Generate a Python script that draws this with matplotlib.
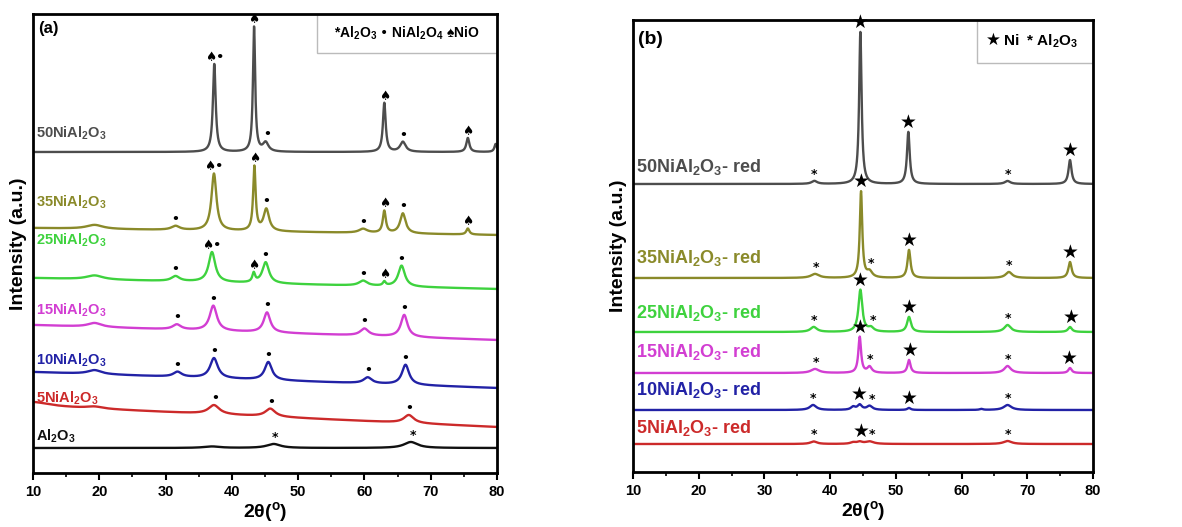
import matplotlib.pyplot as plt
import numpy as np
from matplotlib.patches import Rectangle

plt.rcParams['font.family'] = ['Liberation Sans', 'DejaVu Sans']
plt.rcParams['font.weight'] = 'bold'
plt.rcParams['mathtext.default'] = 'regular'

# Panel (a): calcined samples. Peaks = (2theta, height, fwhm), background = (start, end).
labels_a = ['50NiAl$_2$O$_3$', '35NiAl$_2$O$_3$', '25NiAl$_2$O$_3$', '15NiAl$_2$O$_3$',
            '10NiAl$_2$O$_3$', '5NiAl$_2$O$_3$', 'Al$_2$O$_3$']
colors_a = ['#4d4d4d', '#8a8a2a', '#3ed23e', '#d23ed2', '#2222a6', '#cc2a2a', '#111111']
bg_a = [(321, 321), (245, 238), (195, 184), (148, 133), (101, 85), (67, 46), (25, 25)]
label_y_a = [340, 271, 233, 163, 113, 75, 37]

peaks_50 = [(37.35, 88, 0.5), (43.35, 125, 0.4), (45.1, 9, 1.0), (63.0, 49, 0.5),
            (65.8, 10, 1.0), (75.6, 14, 0.55), (79.8, 8, 0.45)]
peaks_35 = [(19.3, 4, 3.0), (31.5, 4, 1.5), (37.3, 57, 0.9), (43.4, 64, 0.45), (45.2, 22, 1.0),
            (59.8, 4, 1.5), (63.0, 22, 0.55), (65.8, 20, 1.0), (75.6, 6, 0.55)]
peaks_25 = [(19.3, 4, 3.0), (31.5, 5, 1.5), (37.0, 30, 1.2), (43.3, 9, 0.5), (45.1, 21, 1.2),
            (59.8, 5, 1.5), (63.0, 4, 0.5), (65.6, 21, 1.2)]
peaks_15 = [(19.3, 4, 2.5), (31.7, 5, 1.5), (37.2, 25, 1.3), (45.3, 20, 1.2),
            (60.0, 7, 1.5), (66.0, 22, 1.2)]
peaks_10 = [(19.3, 4, 2.5), (31.8, 5, 1.5), (37.3, 20, 1.4), (45.5, 18, 1.3),
            (60.5, 6, 1.5), (66.2, 20, 1.3)]
peaks_5 = [(10.0, 4, 6.0), (19.3, 2, 3.0), (37.3, 9, 2.0), (45.8, 8, 1.8), (66.7, 8, 1.8)]
peaks_al = [(37.0, 1.5, 3.0), (46.3, 4, 2.5), (67.0, 6, 2.5)]
peaks_a = [peaks_50, peaks_35, peaks_25, peaks_15, peaks_10, peaks_5, peaks_al]

marks_a = [
    [('♠•', 37.35), ('♠', 43.35), ('•', 45.3), ('♠', 63.0), ('•', 65.8), ('♠', 75.6)],
    [('•', 31.5), ('♠•', 37.3), ('♠', 43.4), ('•', 45.2), ('•', 59.8), ('♠', 63.0), ('•', 65.8), ('♠', 75.6)],
    [('•', 31.5), ('♠•', 37.0), ('♠', 43.3), ('•', 45.1), ('•', 59.8), ('♠', 63.0), ('•', 65.6)],
    [('•', 31.7), ('•', 37.2), ('•', 45.3), ('•', 60.0), ('•', 66.0)],
    [('•', 31.8), ('•', 37.3), ('•', 45.5), ('•', 60.5), ('•', 66.2)],
    [('•', 37.5), ('•', 46.0), ('•', 66.7)],
    [('*', 46.5), ('*', 67.3)],
]

# Panel (b): reduced samples
labels_b = ['50NiAl$_2$O$_3$- red', '35NiAl$_2$O$_3$- red', '25NiAl$_2$O$_3$- red',
            '15NiAl$_2$O$_3$- red', '10NiAl$_2$O$_3$- red', '5NiAl$_2$O$_3$- red']
colors_b = colors_a[:6]
bg_b = [(288, 288), (194, 194), (140, 140), (99, 99), (62, 62), (28, 28)]
label_y_b = [305, 214, 159, 120, 82, 44]

peaksr_50 = [(37.6, 3, 1.0), (44.6, 152, 0.45), (51.9, 52, 0.5), (67.0, 3, 1.0), (76.5, 24, 0.55)]
peaksr_35 = [(37.7, 4, 1.5), (44.7, 86, 0.45), (46.0, 6, 1.0), (52.0, 28, 0.55),
             (67.2, 6, 1.2), (76.5, 16, 0.6)]
peaksr_25 = [(37.5, 5, 1.2), (44.6, 42, 0.7), (46.2, 4, 1.0), (52.0, 15, 0.7),
             (67.0, 7, 1.2), (76.5, 5, 0.7)]
peaksr_15 = [(37.7, 4, 1.5), (44.5, 36, 0.5), (46.0, 6, 0.8), (52.0, 13, 0.55),
             (67.0, 7, 1.2), (76.5, 5, 0.6)]
peaksr_10 = [(37.4, 5, 1.2), (43.5, 3, 0.8), (44.5, 5, 0.8), (46.0, 4, 1.0), (52.0, 2, 0.6),
             (63.0, 1, 0.6), (67.0, 5, 1.4)]
peaksr_5 = [(37.5, 2.5, 1.2), (43.5, 1.5, 1.0), (44.5, 2, 1.0), (46.0, 2.5, 1.5), (67.0, 3, 1.5)]
peaks_b = [peaksr_50, peaksr_35, peaksr_25, peaksr_15, peaksr_10, peaksr_5]

marks_b = [
    [('*', 37.6), ('★', 44.6), ('★', 51.9), ('*', 67.0), ('★', 76.5)],
    [('*', 37.8), ('★', 44.7), ('*', 46.2), ('★', 52.0), ('*', 67.2), ('★', 76.5)],
    [('*', 37.5), ('★', 44.6), ('*', 46.5), ('★', 52.0), ('*', 67.0), ('★', 76.6)],
    [('*', 37.8), ('★', 44.6), ('*', 46.0), ('★', 52.1), ('*', 67.0), ('★', 76.4)],
    [('*', 37.4), ('★', 44.4), ('*', 46.3), ('★', 52.0), ('*', 67.0)],
    [('*', 37.5), ('★', 44.7), ('*', 46.3), ('*', 67.0)],
]

x = np.linspace(10, 80, 3501)


def pattern(bg, peaks):
    y = bg[0] + (bg[1] - bg[0]) * (x - 10) / 70.0
    for c, h, w in peaks:
        y = y + h / (1 + ((x - c) / (w / 2)) ** 2)
    return y


def draw(ax, labels, colors, bgs, peaks, marks, label_y, label_size, ylim, mark_size):
    for lab, col, bg, pk, mk, ly in zip(labels, colors, bgs, peaks, marks, label_y):
        y = pattern(bg, pk)
        ax.plot(x, y, color=col, lw=1.7)
        ax.text(10.4, ly, lab, color=col, fontsize=label_size, fontweight='bold', va='center')
        for sym, pos in mk:
            i = np.argmin(abs(x - pos))
            yv = y[max(i - 8, 0):i + 9].max()
            fs = mark_size * (1.5 if sym == '★' else 1.0)
            ax.text(pos, yv, sym, fontsize=fs, ha='center', va='bottom',
                    family=['DejaVu Sans'], color='black')
    ax.set_xlim(10, 80)
    ax.set_ylim(0, ylim)
    ax.set_yticks([])
    ax.set_xticks(range(10, 81, 10))
    ax.set_xticks(range(15, 80, 10), minor=True)
    ax.tick_params(axis='x', which='major', direction='out', length=5, width=1.5, labelsize=10.5)
    ax.tick_params(axis='x', which='minor', direction='out', length=3, width=1.2)
    for lbl in ax.get_xticklabels():
        lbl.set_fontweight('bold')
    for s in ax.spines.values():
        s.set_linewidth(2)
    ax.set_xlabel('2θ($^o$)', fontsize=14, fontweight='bold', labelpad=1)
    ax.set_ylabel('Intensity (a.u.)', fontsize=14, fontweight='bold', labelpad=4)


fig = plt.figure(figsize=(11.82, 5.27), dpi=100)
ax1 = fig.add_axes([33 / 1182, 54 / 527, 464 / 1182, 459 / 527])
ax2 = fig.add_axes([633 / 1182, 55 / 527, 460 / 1182, 452 / 527])

draw(ax1, labels_a, colors_a, bg_a, peaks_a, marks_a, label_y_a, 10.5, 459, 9)
draw(ax2, labels_b, colors_b, bg_b, peaks_b, marks_b, label_y_b, 13, 452, 9)

ax1.text(0.01, 0.985, '(a)', transform=ax1.transAxes, fontsize=12, fontweight='bold', va='top')
ax2.text(0.01, 0.975, '(b)', transform=ax2.transAxes, fontsize=14, fontweight='bold', va='top')

ax1.add_patch(Rectangle((0.612, 0.915), 0.388, 0.085, transform=ax1.transAxes,
                        fill=False, edgecolor='#bbbbbb', lw=1))
ax1.text(0.806, 0.957, '*Al$_2$O$_3$ • NiAl$_2$O$_4$ ♠NiO', transform=ax1.transAxes,
         fontsize=10, fontweight='bold', ha='center', va='center')
ax2.add_patch(Rectangle((0.748, 0.905), 0.252, 0.095, transform=ax2.transAxes,
                        fill=False, edgecolor='#bbbbbb', lw=1))
ax2.text(0.783, 0.955, '★', transform=ax2.transAxes, family=['DejaVu Sans'],
         fontsize=12, ha='center', va='center')
ax2.text(0.804, 0.952, 'Ni  * Al$_2$O$_3$', transform=ax2.transAxes,
         fontsize=11, fontweight='bold', ha='left', va='center')

fig.savefig('out.png', dpi=100)
